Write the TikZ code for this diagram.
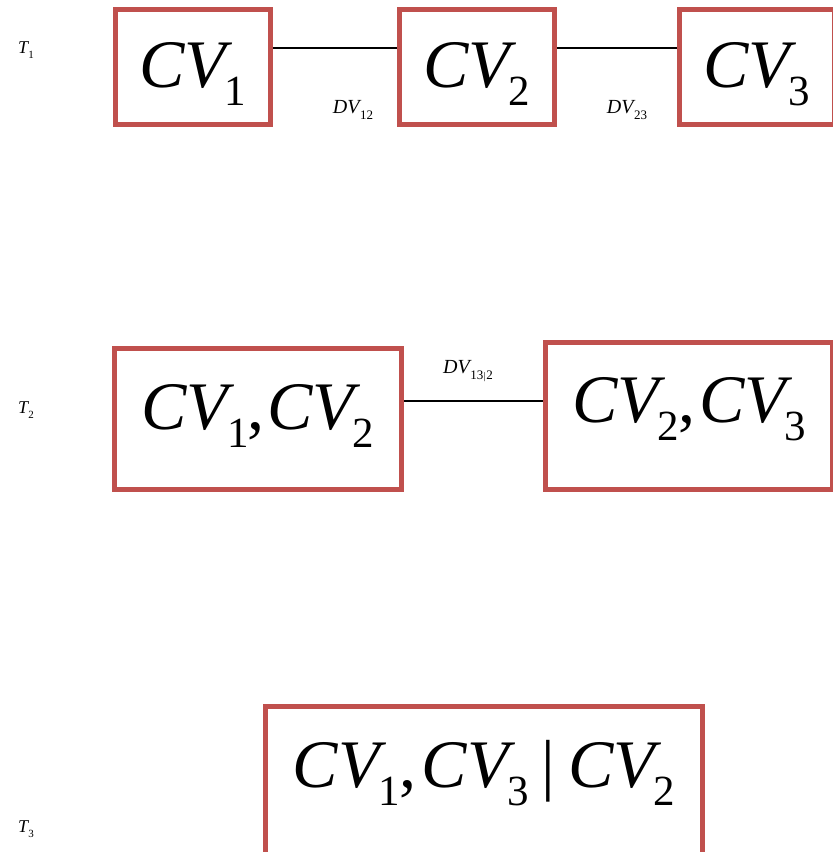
\documentclass[tikz,border=0pt]{standalone}
\usepackage{fontspec}
\setmainfont{Liberation Serif}
\definecolor{boxred}{HTML}{C0504D}
\newcommand{\bigcv}[1]{\textit{CV}\kern-8pt\raisebox{-18pt}{\fontsize{43}{43}\selectfont #1}}
\newcommand{\smlab}[2]{\textit{#1}\kern-1.5pt\raisebox{-6pt}{\fontsize{13}{13}\selectfont #2}}
\newcommand{\tlabel}[1]{\textit{T}\kern-1pt\raisebox{-5pt}{\fontsize{11}{11}\selectfont #1}}
\begin{document}
\begin{tikzpicture}[x=1pt,y=-1pt,
  cvbox/.style={draw=boxred, line width=5pt, inner sep=0pt, font=\fontsize{68}{68}\selectfont},
  conn/.style={draw=black, line width=1.3pt},
  dvlab/.style={inner sep=0pt, font=\fontsize{20}{20}\selectfont},
  tlab/.style={inner sep=0pt, font=\fontsize{18}{18}\selectfont}]
\clip (0,0) rectangle (833,852);
\useasboundingbox (0,0) rectangle (833,852);
% row 1
\node[cvbox, minimum width=155pt, minimum height=115pt, text height=45pt, text depth=5pt] (cv1) at (193,67) {\bigcv{1}};
\node[cvbox, minimum width=155pt, minimum height=115pt, text height=45pt, text depth=5pt] (cv2) at (477,67) {\bigcv{2}};
\node[cvbox, minimum width=155pt, minimum height=115pt, text height=45pt, text depth=5pt] (cv3) at (757,67) {\bigcv{3}};
\draw[conn] ([yshift=19pt]cv1.east) -- ([yshift=19pt]cv2.west);
\draw[conn] ([yshift=19pt]cv2.east) -- ([yshift=19pt]cv3.west);
\node[dvlab] (dv12) at (353,110) {\smlab{DV}{12}};
\node[dvlab] (dv23) at (627,110) {\smlab{DV}{23}};
\node[tlab] (t1) at (26,50) {\tlabel{1}};
% row 2
\node[cvbox, minimum width=287pt, minimum height=141pt, text height=45pt, text depth=25pt] (cv12) at (258,419) {\bigcv{1}\kern-1pt,\kern3pt\bigcv{2}};
\node[cvbox, minimum width=287pt, minimum height=147pt, text height=45pt, text depth=33pt] (cv23) at (689,416) {\bigcv{2}\kern-1pt,\kern4pt\bigcv{3}};
\draw[conn] ([yshift=18pt]cv12.east) -- ([yshift=18pt]cv12.east -| cv23.west);
\node[dvlab] (dv132) at (468,371) {\smlab{DV}{13\kern0.5pt\raisebox{0.5pt}{\fontsize{10}{10}\selectfont|}\kern0.5pt2}};
\node[tlab] (t2) at (26,410) {\tlabel{2}};
% row 3
\node[cvbox, minimum width=437pt, minimum height=153pt, text height=45pt, text depth=37pt] (cv123) at (484,783) {\bigcv{1}\kern0pt,\kern5pt\bigcv{3}\kern13pt\textbar\kern13pt\bigcv{2}};
\node[tlab] (t3) at (26,829) {\tlabel{3}};
\end{tikzpicture}
\end{document}
